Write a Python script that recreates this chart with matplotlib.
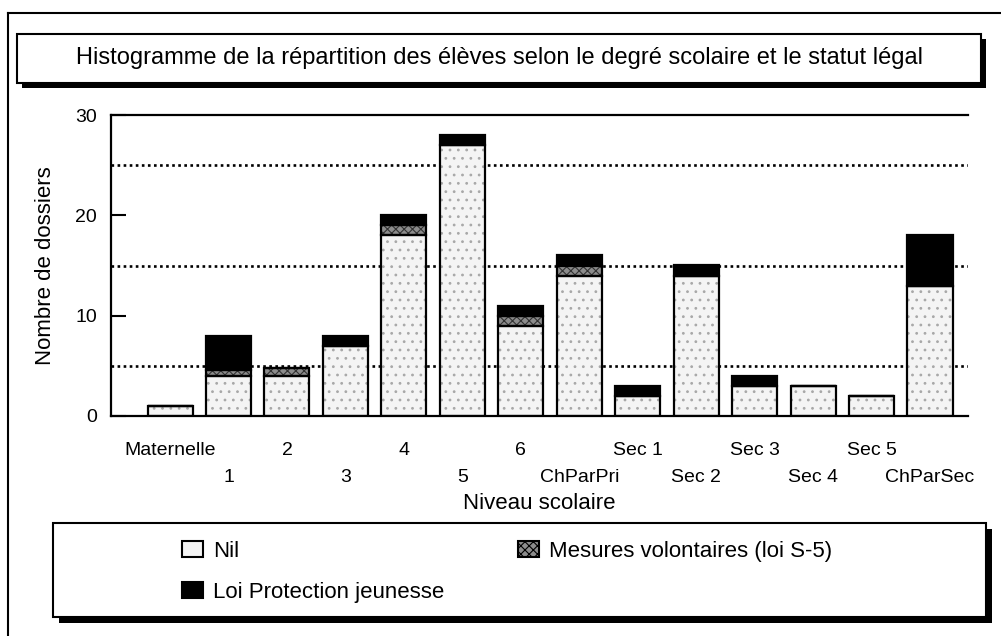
import numpy as np
import matplotlib
matplotlib.use('Agg')
import matplotlib.pyplot as plt
from matplotlib.patches import Rectangle, Patch
from matplotlib.lines import Line2D

plt.rcParams['font.family'] = ['Liberation Sans', 'DejaVu Sans']
plt.rcParams['hatch.linewidth'] = 0.8

# Données
niveaux = ['Maternelle', '1', '2', '3', '4', '5', '6', 'ChParPri',
           'Sec 1', 'Sec 2', 'Sec 3', 'Sec 4', 'Sec 5', 'ChParSec']
nil = [1, 4, 4, 7, 18, 27, 9, 14, 2, 14, 3, 3, 2, 13]
mesures_s5 = [0, 0.6, 0.8, 0, 1, 0, 1, 1, 0, 0, 0, 0, 0, 0]
loi_pj = [0, 3.4, 0, 1, 1, 1, 1, 1, 1, 1, 1, 0, 0, 5]

W, H = 1001, 636
fig = plt.figure(figsize=(W / 100, H / 100), dpi=100)


def fx(px):
    return px / W


def fy(py):
    return 1 - py / H


def boite(x0, y0, x1, y1, ombre=5):
    # ombre noire puis boîte blanche
    fig.patches.append(Rectangle((fx(x0 + ombre), fy(y1 + ombre)), fx(x1 - x0), (y1 - y0) / H,
                                 transform=fig.transFigure, facecolor='black', edgecolor='none', zorder=0))
    fig.patches.append(Rectangle((fx(x0), fy(y1)), fx(x1 - x0), (y1 - y0) / H,
                                 transform=fig.transFigure, facecolor='white', edgecolor='black',
                                 linewidth=1.5, zorder=1))


# cadre extérieur (gauche et haut seulement visibles)
fig.add_artist(Line2D([fx(8), fx(8)], [fy(13), 0], transform=fig.transFigure, color='black', lw=1.5))
fig.add_artist(Line2D([fx(8), 1], [fy(13), fy(13)], transform=fig.transFigure, color='black', lw=1.5))

boite(17, 34, 981, 83)
fig.text(fx(499), fy(58), "Histogramme de la répartition des élèves selon le degré scolaire et le statut légal",
         ha='center', va='center', fontsize=17, zorder=5)

ax = fig.add_axes([fx(111), fy(416), fx(968 - 111), (416 - 115) / H])
x = np.arange(len(niveaux))
larg = 0.77
nil_a = np.array(nil)
s5_a = np.array(mesures_s5)
lpj_a = np.array(loi_pj)

ax.bar(x, nil_a, larg, color='#f4f4f4', edgecolor='#a8a8a8', hatch='..', linewidth=0, zorder=2)
ax.bar(x, s5_a, larg, bottom=nil_a, color='#8c8c8c', edgecolor='#333333', hatch='xxxx', linewidth=0, zorder=2)
ax.bar(x, lpj_a, larg, bottom=nil_a + s5_a, color='black', linewidth=0, zorder=2)
# contours
for serie, bas in [(nil_a, 0), (s5_a, nil_a), (lpj_a, nil_a + s5_a)]:
    ax.bar(x, serie, larg, bottom=bas, fill=False, edgecolor='black', linewidth=1.6, zorder=3)

ax.set_xlim(-1.01, 13.65)
ax.set_ylim(0, 30)
ax.set_yticks([0, 10, 20, 30])
ax.set_yticks([5, 15, 25], minor=True)
ax.grid(axis='y', which='minor', linestyle=(0, (1, 1.3)), color='black', linewidth=1.9, zorder=1)
ax.tick_params(axis='y', which='major', direction='in', length=11, width=1.5, pad=10, labelsize=14)
ax.tick_params(axis='y', which='minor', length=0)

# étiquettes en quinconce : rangée haute (majeures) et basse (mineures)
ax.set_xticks(x[::2])
ax.set_xticklabels(niveaux[::2], fontsize=14)
ax.set_xticks(x[1::2], minor=True)
ax.set_xticklabels(niveaux[1::2], minor=True, fontsize=14)
ax.tick_params(axis='x', which='major', length=0, pad=19)
ax.tick_params(axis='x', which='minor', length=0, pad=38)
ax.spines['right'].set_visible(False)
for s in ['left', 'bottom', 'top']:
    ax.spines[s].set_linewidth(1.6)

ax.set_ylabel('Nombre de dossiers', fontsize=16)
ax.yaxis.set_label_coords(-0.064, 0.5)
ax.set_xlabel('Niveau scolaire', fontsize=16, labelpad=5)

# légende
boite(53, 523, 986, 617, ombre=6)
poignees = [Patch(facecolor='#f4f4f4', edgecolor='black', linewidth=1.5, label='Nil'),
            Patch(facecolor='black', edgecolor='black', linewidth=1.5, label='Loi Protection jeunesse'),
            Patch(facecolor='#8c8c8c', edgecolor='black', hatch='xxxx', linewidth=1.5,
                  label='Mesures volontaires (loi S-5)')]
leg = fig.legend(handles=poignees, ncol=2, loc='upper left', bbox_to_anchor=(fx(182), fy(541)),
                 frameon=False, fontsize=16, borderpad=0, borderaxespad=0,
                 handlelength=0.95, handleheight=0.73, handletextpad=0.45,
                 columnspacing=3.3, labelspacing=0.9)
leg.set_zorder(5)

fig.savefig('out.png', dpi=100)
